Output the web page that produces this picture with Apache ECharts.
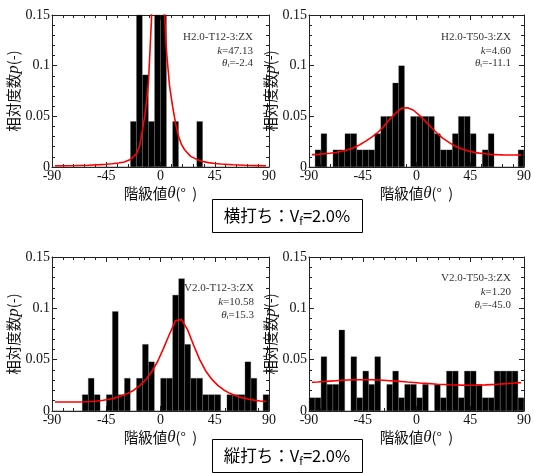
<!DOCTYPE html>
<html><head><meta charset="utf-8">
<script src="https://cdn.jsdelivr.net/npm/echarts@6/dist/echarts.min.js"></script>
<style>html,body{margin:0;padding:0;background:#fff}#c{width:534px;height:473px}</style>
</head><body><div id="c"></div>
<script>
// bin centres (5 degree classes)
const binCenters = [-87.5,-82.5,-77.5,-72.5,-67.5,-62.5,-57.5,-52.5,-47.5,-42.5,-37.5,-32.5,-27.5,-22.5,-17.5,-12.5,-7.5,-2.5,
  2.5,7.5,12.5,17.5,22.5,27.5,32.5,37.5,42.5,47.5,52.5,57.5,62.5,67.5,72.5,77.5,82.5,87.5];
const xTicks = [-90,-45,0,45,90];
const yTicks = [0,0.05,0.1,0.15];

// relative frequencies
const barsH12 = [0,0,0,0,0,0,0,0,0,0,0,0,0,0.045,0.182,0.091,0.045,0.273,0.273,0,0.045,0,0,0,0.045,0,0,0,0,0,0,0,0,0,0,0];
const barsH50 = [0,0.017,0.033,0,0.017,0.017,0.033,0.033,0.017,0.017,0.017,0.033,0.05,0.05,0.083,0.1,0,0.05,0.05,0.05,0.05,0.033,0.017,0.017,0.033,0.05,0.05,0.033,0,0.017,0.033,0,0,0,0,0.017];
const barsV12 = [0,0,0,0,0,0.016,0.032,0.016,0,0.016,0.097,0.016,0.032,0,0.032,0.065,0.048,0,0.032,0.032,0.113,0.129,0.065,0.032,0.032,0.016,0.016,0.016,0,0.016,0.016,0.016,0.048,0.032,0,0.016];
const barsV50 = [0.013,0.013,0.053,0.026,0.026,0.079,0,0.053,0.013,0.039,0.026,0.053,0,0.026,0.039,0.013,0.026,0.026,0.013,0.026,0,0.026,0.013,0.039,0.039,0.013,0.039,0.039,0.026,0.013,0.013,0.039,0.039,0.039,0.039,0.013];

// fitted curves
const curveXH12 = [-87.5,-80,-70,-60,-50,-45,-40,-35,-30,-25,-20,-17.5,-15,-12.5,-10,-7.5,-5,-2.5,0,2.5,5,7.5,10,12.5,15,17.5,20,25,30,35,40,45,50,60,70,80,87.5];
const curveYH12 = [0.0012,0.0013,0.0015,0.0018,0.0023,0.0027,0.0032,0.0040,0.0050,0.0075,0.013,0.020,0.036,0.055,0.083,0.145,0.30,0.60,0.45,0.17,0.114,0.080,0.060,0.043,0.030,0.022,0.017,0.0105,0.0075,0.0055,0.0043,0.0035,0.0029,0.0022,0.0017,0.0014,0.0012];
const curveYH50 = [0.0122,0.0125,0.013,0.0135,0.0143,0.0155,0.017,0.019,0.022,0.0255,0.0295,0.034,0.040,0.047,0.053,0.058,0.0585,0.056,0.051,0.045,0.039,0.033,0.028,0.024,0.0205,0.018,0.016,0.0147,0.0137,0.013,0.0125,0.0122,0.012,0.0119,0.0119,0.012];
const curveYV12 = [0.0088,0.0087,0.0087,0.0087,0.0088,0.0090,0.0093,0.0098,0.0105,0.0115,0.0128,0.0146,0.0170,0.0200,0.0245,0.030,0.038,0.048,0.061,0.075,0.088,0.089,0.079,0.064,0.050,0.039,0.031,0.025,0.0205,0.0172,0.0148,0.0130,0.0117,0.0106,0.0098,0.0092];
const curveYV50 = [0.0280,0.0283,0.0287,0.0291,0.0295,0.0299,0.0302,0.0304,0.0305,0.0305,0.0304,0.0302,0.0299,0.0295,0.0291,0.0287,0.0282,0.0278,0.0273,0.0269,0.0265,0.0261,0.0258,0.0255,0.0253,0.0252,0.0251,0.0251,0.0252,0.0254,0.0257,0.0260,0.0264,0.0268,0.0272,0.0276];

const specimen = ['H2.0-T12-3:ZX','H2.0-T50-3:ZX','V2.0-T12-3:ZX','V2.0-T50-3:ZX'];
const kValues = ['47.13','4.60','10.58','1.20'];
const thetaValues = ['-2.4','-11.1','15.3','-45.0'];
const boxLabels = ['横打ち','縦打ち'];
const vfText = '2.0%';

const panels = [
  {bars: barsH12, cx: curveXH12, cy: curveYH12},
  {bars: barsH50, cx: binCenters, cy: curveYH50},
  {bars: barsV12, cx: binCenters, cy: curveYV12},
  {bars: barsV50, cx: binCenters, cy: curveYV50}
];
const gridPos = [
  {left:52, top:15, width:217, height:152},
  {left:309, top:15, width:216, height:152},
  {left:52, top:257, width:217, height:154},
  {left:309, top:257, width:216, height:154}
];
const annY = [[37,51,63],[37,51,63],[288,302,315],[278,292,305]];
const annX = [253,511,254,511];

const serif = '"Liberation Serif","Times New Roman",serif';
const cjk = '"Noto Sans CJK JP","Noto Sans CJK SC",sans-serif';
const axisColor = '#222';

const xAxis = [], yAxis = [], series = [], grid = [], graphic = [];
panels.forEach((p, i) => {
  grid.push(Object.assign({}, gridPos[i]));
  const line = {show:true, onZero:false, lineStyle:{color:axisColor, width:1}};
  const tick = {show:true, inside:true, length:5, lineStyle:{color:axisColor, width:1}};
  const minor = {show:true, splitNumber:5, length:3, lineStyle:{color:axisColor, width:1}};
  xAxis.push({gridIndex:i, type:'value', min:xTicks[0], max:xTicks[xTicks.length-1], interval:45, position:'bottom',
    axisLine:line, axisTick:tick, minorTick:minor, splitLine:{show:false},
    axisLabel:{fontFamily:serif, fontSize:14, color:'#111', margin:2},
    name:'階級値{i|θ}(°  )', nameLocation:'middle', nameGap:18,
    nameTextStyle:{fontFamily:cjk, fontSize:14.5, color:'#111', rich:{i:{fontFamily:serif, fontStyle:'italic', fontSize:17, color:'#111'}}}});
  xAxis.push({gridIndex:i, type:'value', min:xTicks[0], max:xTicks[xTicks.length-1], interval:45, position:'top',
    axisLine:line, axisTick:tick, minorTick:minor, splitLine:{show:false}, axisLabel:{show:false}});
  xAxis.push({gridIndex:i, type:'category', data:binCenters.map(String), show:false, boundaryGap:true});
  yAxis.push({gridIndex:i, type:'value', min:yTicks[0], max:yTicks[yTicks.length-1], interval:0.05, position:'left',
    axisLine:line, axisTick:tick, minorTick:minor, splitLine:{show:false},
    axisLabel:{fontFamily:serif, fontSize:14, color:'#111', margin:2},
    name:'相対度数{i|p}(-)', nameLocation:'middle', nameGap:24,
    nameTextStyle:{fontFamily:cjk, fontSize:14.5, color:'#111', rich:{i:{fontFamily:serif, fontStyle:'italic', fontSize:17, color:'#111'}}}});
  yAxis.push({gridIndex:i, type:'value', min:yTicks[0], max:yTicks[yTicks.length-1], interval:0.05, position:'right',
    axisLine:line, axisTick:tick, minorTick:minor, splitLine:{show:false}, axisLabel:{show:false}});
  series.push({type:'bar', xAxisIndex:3*i+2, yAxisIndex:2*i, data:p.bars, barWidth:'100%', barCategoryGap:'0%',
    itemStyle:{color:'#000', borderColor:'#3a3a3a', borderWidth:0.3}, silent:true, z:2, clip:true});
  series.push({type:'line', xAxisIndex:3*i, yAxisIndex:2*i, data:p.cx.map((x,k)=>[x,p.cy[k]]),
    showSymbol:false, symbol:'none', lineStyle:{color:'#ff0000', width:1.6}, silent:true, z:3, clip:true});

  const st = {fontFamily:serif, fontSize:11, fill:'#333', align:'right', textAlign:'right', verticalAlign:'middle', textVerticalAlign:'middle'};
  graphic.push({type:'text', x:annX[i], y:annY[i][0], z:10, style:Object.assign({text:specimen[i]}, st)});
  graphic.push({type:'text', x:annX[i], y:annY[i][1], z:10, style:Object.assign({text:'{i|k}='+kValues[i],
    rich:{i:{fontFamily:serif, fontStyle:'italic', fontSize:11, fill:'#333'}}}, st)});
  graphic.push({type:'text', x:annX[i], y:annY[i][2], z:10, style:Object.assign({text:'{i|θ}{s|t}='+thetaValues[i],
    rich:{i:{fontFamily:serif, fontStyle:'italic', fontSize:11, fill:'#333'}, s:{fontFamily:serif, fontSize:7, fill:'#333', verticalAlign:'bottom', lineHeight:9}}}, st)});
});

const boxY = [199, 439];
boxLabels.forEach((lab, j) => {
  graphic.push({type:'rect', z:10, shape:{x:212.5, y:boxY[j]+0.5, width:150, height:33}, style:{fill:'#fff', stroke:'#000', lineWidth:1}});
  graphic.push({type:'text', z:11, x:287, y:boxY[j]+17, style:{text:lab+'：V{s|f}='+vfText, fontFamily:cjk, fontSize:16.5, fill:'#000', lineHeight:20,
    align:'center', textAlign:'center', verticalAlign:'middle', textVerticalAlign:'middle',
    rich:{s:{fontFamily:cjk, fontSize:11, fill:'#000', verticalAlign:'bottom', lineHeight:12}}}});
});

const chart = echarts.init(document.getElementById('c'), null, {renderer:'canvas', width:534, height:473});
chart.setOption({animation:false, backgroundColor:'#fff', grid, xAxis, yAxis, series, graphic});
</script></body></html>
